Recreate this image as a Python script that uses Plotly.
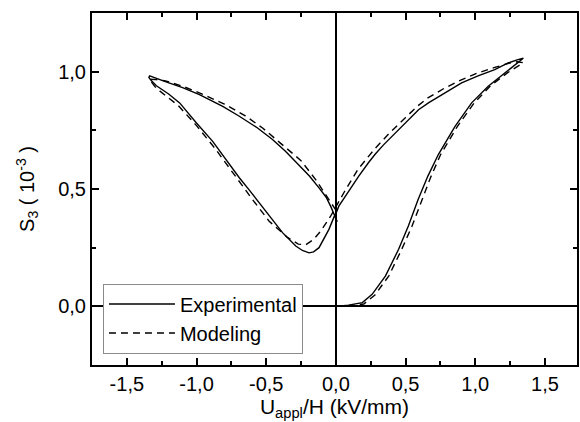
import plotly.graph_objects as go

# Experimental (solid) loop, in field order
exp_x = [0.00, 0.09, 0.19, 0.26, 0.355, 0.45, 0.52, 0.59, 0.66, 0.736, 0.855, 0.974, 1.093, 1.212, 1.283, 1.33, 1.345,
         1.30, 1.236, 1.14, 1.02, 0.902, 0.783, 0.664, 0.593, 0.50, 0.426, 0.34, 0.283, 0.236, 0.164, 0.09, 0.021, 0.0,
         -0.014, -0.05, -0.09, -0.121, -0.16, -0.193, -0.24, -0.288, -0.383, -0.45, -0.526, -0.621, -0.693, -0.764,
         -0.884, -1.002, -1.121, -1.20, -1.288, -1.325, -1.342, -1.336, -1.30, -1.229, -1.10, -0.979, -0.812, -0.693,
         -0.562, -0.455, -0.36, -0.264, -0.19, -0.121, -0.07, -0.038, -0.01, 0.01]
exp_y = [0.000, 0.005, 0.016, 0.051, 0.129, 0.243, 0.342, 0.455, 0.555, 0.648, 0.767, 0.867, 0.938, 0.994, 1.030, 1.050, 1.057,
         1.050, 1.037, 1.009, 0.982, 0.952, 0.911, 0.867, 0.838, 0.783, 0.739, 0.687, 0.649, 0.614, 0.555, 0.488, 0.427, 0.395,
         0.380, 0.328, 0.280, 0.250, 0.232, 0.228, 0.238, 0.257, 0.314, 0.365, 0.427, 0.495, 0.548, 0.605,
         0.703, 0.782, 0.867, 0.905, 0.940, 0.962, 0.975, 0.982, 0.975, 0.959, 0.932, 0.902, 0.852, 0.810,
         0.760, 0.711, 0.660, 0.602, 0.555, 0.505, 0.465, 0.427, 0.385, 0.360]

# Modeling (dashed) loop, in field order
mod_x = [0.00, 0.10, 0.20, 0.28, 0.38, 0.47, 0.545, 0.615, 0.68, 0.75, 0.87, 0.99, 1.11, 1.23, 1.30, 1.345,
         1.30, 1.24, 1.14, 1.02, 0.90, 0.78, 0.66, 0.59, 0.50, 0.379, 0.28, 0.16, 0.057, 0.0,
         -0.038, -0.11, -0.16, -0.217, -0.27, -0.35, -0.479, -0.598, -0.72, -0.87, -1.00, -1.13, -1.29, -1.34,
         -1.29, -1.23, -1.10, -0.98, -0.80, -0.65, -0.526, -0.395, -0.252, -0.145, -0.05, 0.0]
mod_y = [0.000, 0.002, 0.010, 0.048, 0.130, 0.240, 0.340, 0.450, 0.550, 0.645, 0.765, 0.865, 0.940, 0.995, 1.022, 1.038,
         1.042, 1.036, 1.018, 0.995, 0.965, 0.930, 0.888, 0.855, 0.805, 0.735, 0.672, 0.585, 0.484, 0.420,
         0.384, 0.320, 0.285, 0.262, 0.265, 0.295, 0.363, 0.455, 0.555, 0.675, 0.770, 0.855, 0.930, 0.968,
         0.966, 0.962, 0.938, 0.910, 0.862, 0.812, 0.760, 0.695, 0.622, 0.540, 0.455, 0.410]

x_ticks = [-1.5, -1.0, -0.5, 0.0, 0.5, 1.0, 1.5]
x_ticklabels = ["-1,5", "-1,0", "-0,5", "0,0", "0,5", "1,0", "1,5"]
y_ticks = [0.0, 0.5, 1.0]
y_ticklabels = ["0,0", "0,5", "1,0"]

FONT = "Liberation Sans, Arial, sans-serif"

fig = go.Figure()
fig.add_trace(go.Scatter(x=exp_x, y=exp_y, mode="lines", name="Experimental",
                         line=dict(color="black", width=1.4)))
fig.add_trace(go.Scatter(x=mod_x, y=mod_y, mode="lines", name="Modeling",
                         line=dict(color="black", width=1.4, dash="7px,5px")))

axis_common = dict(
    showline=True, linecolor="black", linewidth=2, mirror="ticks",
    ticks="inside", ticklen=7, tickwidth=1.5, tickcolor="black",
    showgrid=False, zeroline=True, zerolinecolor="black", zerolinewidth=1.6,
    tickfont=dict(family=FONT, size=20, color="black"),
)

fig.update_xaxes(
    range=[-1.75, 1.73], tickmode="array", tickvals=x_ticks, ticktext=x_ticklabels,
    minor=dict(dtick=0.25, tick0=0, ticks="inside", ticklen=4, tickwidth=1.5, tickcolor="black"),
    title=dict(text="U<sub>appl</sub>/H (kV/mm)", font=dict(family=FONT, size=21, color="black"), standoff=0),
    **axis_common,
)
fig.update_yaxes(
    range=[-0.25, 1.25], tickmode="array", tickvals=y_ticks, ticktext=y_ticklabels,
    minor=dict(dtick=0.25, tick0=0, ticks="inside", ticklen=4, tickwidth=1.5, tickcolor="black"),
    title=dict(text="S<sub>3</sub> ( 10<sup>-3</sup> )", font=dict(family=FONT, size=20, color="black"), standoff=18),
    **axis_common,
)

fig.update_layout(
    width=580, height=422,
    margin=dict(l=92, r=1, t=13, b=57),
    paper_bgcolor="white", plot_bgcolor="white",
    showlegend=True,
    legend=dict(x=0.0226, y=0.2315, xanchor="left", yanchor="top",
                bgcolor="white", bordercolor="#8a8a8a", borderwidth=1,
                font=dict(family=FONT, size=20, color="black"),
                itemwidth=66, tracegroupgap=0),
)

fig.write_html("out.html")
